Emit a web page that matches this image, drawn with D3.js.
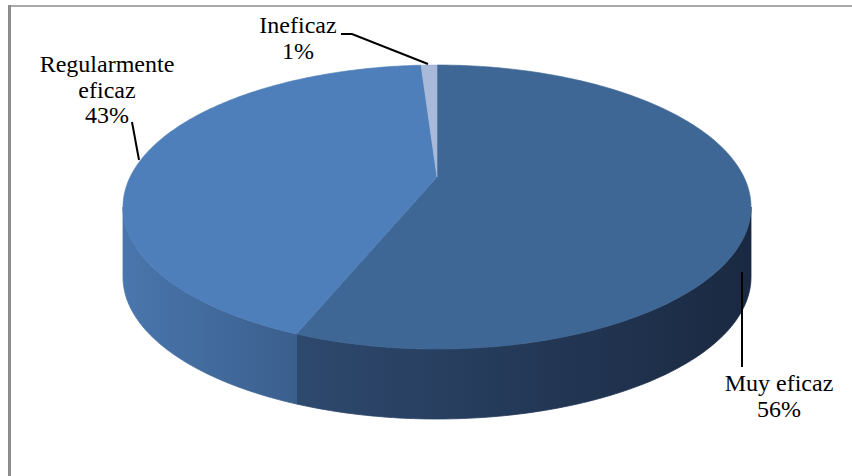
<!DOCTYPE html>
<html>
<head>
<meta charset="utf-8">
<script src="https://cdn.jsdelivr.net/npm/d3@7/dist/d3.min.js"></script>
<style>
  .lbl { font-family: "Liberation Serif"; font-size: 24px; fill: #000; }
</style>
</head>
<body style="margin:0">
<svg id="chart" width="852" height="476"></svg>
<script>
// Survey result: perceived effectiveness
const categories = ["Muy eficaz", "Regularmente eficaz", "Ineficaz"];
const values = [56, 43, 1];
const valueLabels = ["56%", "43%", "1%"];
const labelLines = [["Muy eficaz"], ["Regularmente", "eficaz"], ["Ineficaz"]];

const topColors = ["#3e6796", "#4e7fba", "#a9b9d9"];
const sideColors = [["#2e496e", "#1a2941"], ["#4976ad", "#3b5f8d"], ["#8e9fc0", "#7a8bab"]];

const W = 852, H = 476;
const svg = d3.select("#chart");

// Pie geometry: top ellipse, extrusion depth and perspective shift of the centre
const cx = 437, cy = 207, rx = 314, ry = 142, depth = 70;
const t = -0.211;                 // moves the pie centre toward the far rim
const st = Math.sqrt(1 - t * t);

// Projective map of the unit disk onto itself (keeps straight spokes straight)
function project(phi) {
  const px = Math.sin(phi), py = -Math.cos(phi);
  const k = 1 + t * py;
  return [(px * st) / k, (py + t) / k];
}
const toScreen = ([u, v]) => [cx + rx * u, cy + ry * v];
const apex = [cx, cy + ry * t];

const pie = d3.pie().sort(null).value(d => d)(values);

// Frame lines
svg.append("line").attr("x1", 9).attr("y1", 6).attr("x2", W).attr("y2", 6)
  .attr("stroke", "#8c8c8c").attr("stroke-width", 1.6);
svg.append("line").attr("x1", 9.5).attr("y1", 5).attr("x2", 9.5).attr("y2", H)
  .attr("stroke", "#8c8c8c").attr("stroke-width", 3);

const defs = svg.append("defs");
const line = d3.line();

// Side walls (front half of the cylinder)
const sides = svg.append("g");
pie.forEach((s, i) => {
  const a = project(s.startAngle), b = project(s.endAngle);
  let ps = Math.atan2(a[1], a[0]);
  let pe = Math.atan2(b[1], b[0]);
  while (pe < ps) pe += 2 * Math.PI;
  [[0, Math.PI], [2 * Math.PI, 3 * Math.PI]].forEach(([lo, hi]) => {
    const s0 = Math.max(ps, lo), s1 = Math.min(pe, hi);
    if (s1 <= s0) return;
    const n = 120;
    const upper = d3.range(n + 1).map(j => {
      const ang = s0 + (s1 - s0) * j / n;
      return [cx + rx * Math.cos(ang), cy + ry * Math.sin(ang)];
    });
    const lower = upper.slice().reverse().map(([x, y]) => [x, y + depth]);
    const xs = upper.map(p => p[0]);
    const x0 = d3.min(xs), x1 = d3.max(xs);
    const gid = "side" + i + "_" + lo;
    const g = defs.append("linearGradient").attr("id", gid)
      .attr("gradientUnits", "userSpaceOnUse")
      .attr("x1", x0).attr("x2", x1).attr("y1", 0).attr("y2", 0);
    const [cl, cr] = sideColors[i];
    g.append("stop").attr("offset", 0).attr("stop-color", cl);
    g.append("stop").attr("offset", 1).attr("stop-color", cr);
    sides.append("path")
      .attr("d", line(upper.concat(lower)) + "Z")
      .attr("fill", `url(#${gid})`)
      .attr("stroke", `url(#${gid})`)
      .attr("stroke-width", 0.8);
  });
});

// Top faces
const tops = svg.append("g");
pie.forEach((s, i) => {
  const n = 200;
  const rim = d3.range(n + 1).map(j =>
    toScreen(project(s.startAngle + (s.endAngle - s.startAngle) * j / n)));
  tops.append("path")
    .attr("d", line([apex].concat(rim)) + "Z")
    .attr("fill", topColors[i])
    .attr("stroke", topColors[i])
    .attr("stroke-width", 0.6);
});

// Leader lines
const leaders = [
  [[742, 272], [742, 367]],
  [[132, 122], [139, 160]],
  [[341, 34], [352, 34], [428, 64]]
];
svg.append("g").selectAll("path").data(leaders).join("path")
  .attr("d", d => line(d))
  .attr("fill", "none")
  .attr("stroke", "#000")
  .attr("stroke-width", 2);

// Data labels: one text line each, centred on its label position
const labelPos = [
  { x: 779, y: 391 },
  { x: 107, y: 72 },
  { x: 298, y: 33 }
];
const lineGap = 25.5;
labelLines.forEach((lines, i) => {
  lines.concat([valueLabels[i]]).forEach((txt, j) => {
    const el = svg.append("text")
      .attr("class", "lbl")
      .attr("y", labelPos[i].y + j * lineGap)
      .text(txt);
    el.attr("x", labelPos[i].x - el.node().getComputedTextLength() / 2);
  });
});
</script>
</body>
</html>
